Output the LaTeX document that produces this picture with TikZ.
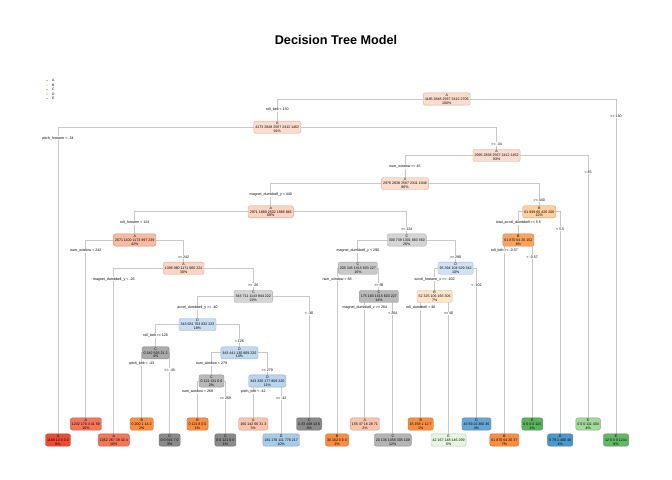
\documentclass[tikz,border=0pt]{standalone}
\usepackage{fontspec}
\setmainfont{Liberation Sans}
\usetikzlibrary{backgrounds}
\definecolor{lcol}{RGB}{200,200,200}
% class A (reds)
\definecolor{aA1}{RGB}{252,220,204}
\definecolor{aA2}{RGB}{252,210,192}
\definecolor{aA3}{RGB}{249,187,162}
\definecolor{aA4}{RGB}{251,213,196}
\definecolor{aA5}{RGB}{251,196,175}
\definecolor{aA6}{RGB}{243,118,90}
\definecolor{aA7}{RGB}{239,75,52}
% class B (oranges)
\definecolor{bB1}{RGB}{253,208,158}
\definecolor{bB2}{RGB}{250,164,96}
\definecolor{bB3}{RGB}{254,229,201}
\definecolor{bB4}{RGB}{249,142,67}
% class C (greys)
\definecolor{cC1}{RGB}{213,213,213}
\definecolor{cC2}{RGB}{201,201,201}
\definecolor{cC3}{RGB}{185,185,185}
\definecolor{cC4}{RGB}{170,170,170}
\definecolor{cC5}{RGB}{138,138,138}
\definecolor{cC6}{RGB}{180,180,180}
% class D (blues)
\definecolor{dD1}{RGB}{208,226,244}
\definecolor{dD2}{RGB}{200,221,242}
\definecolor{dD3}{RGB}{193,217,240}
\definecolor{dD4}{RGB}{186,212,238}
\definecolor{dD5}{RGB}{168,203,232}
\definecolor{dD6}{RGB}{102,166,212}
\definecolor{dD7}{RGB}{76,152,203}
% class E (greens)
\definecolor{eE1}{RGB}{100,183,102}
\definecolor{eE2}{RGB}{90,180,94}
\definecolor{eE3}{RGB}{163,215,155}
\definecolor{eE4}{RGB}{230,245,224}
% legend
\definecolor{legA}{RGB}{240,80,55}
\definecolor{legB}{RGB}{249,150,70}
\definecolor{legC}{RGB}{130,130,130}
\definecolor{legD}{RGB}{95,160,210}
\definecolor{legE}{RGB}{80,175,85}
\newcommand\mysplit[5]{%
  \begin{pgfonlayer}{background}
    \draw[br] (#2.north) -- (#2|-#1) -- (#3|-#1) -- (#3.north);
  \end{pgfonlayer}
  \path (#2|-#1) ++(0,11) node[lbl] (#1ll) {#4};
  \path (#3|-#1) ++(0,17) node[lbl] (#1rl) {#5};
}
\begin{document}
\begin{tikzpicture}[x=1bp,y=-1bp,
  nd/.style={draw=#1!80!black, fill=#1, rounded corners=2bp, line width=0.35bp,
    align=center, inner xsep=1.6bp, inner ysep=0.9bp,
    font=\fontsize{3.6}{3.95}\selectfont},
  lbl/.style={fill=white, inner xsep=0.6bp, inner ysep=0.5bp,
    font=\fontsize{3.6}{4}\selectfont},
  br/.style={draw=lcol, line width=0.9bp},
  legtxt/.style={anchor=west, inner sep=0.5bp, font=\fontsize{3.4}{4}\selectfont},
  legdot/.style={circle, inner sep=0pt, minimum size=1.4bp}]
\useasboundingbox (0,0) rectangle (672,480);

\node[font=\bfseries\fontsize{12.7}{14}\selectfont] (title) at (336,40) {Decision Tree Model};

% legend
\node[legdot, fill=legA] (ldA) at (47,80.5) {};
\node[legdot, fill=legB] (ldB) at (47,85) {};
\node[legdot, fill=legC] (ldC) at (47,89.5) {};
\node[legdot, fill=legD] (ldD) at (47,94) {};
\node[legdot, fill=legE] (ldE) at (47,98.5) {};
\node[legtxt] (ltA) at (51.5,80.5) {A};
\node[legtxt] (ltB) at (51.5,85) {B};
\node[legtxt] (ltC) at (51.5,89.5) {C};
\node[legtxt] (ltD) at (51.5,94) {D};
\node[legtxt] (ltE) at (51.5,98.5) {E};

% internal nodes
\node[nd=aA1] (R)    at (446.7,99)    {A\\4185 2848 2567 2412 2706\\100\%};
\node[nd=aA1] (n2)   at (277.3,127.2) {A\\4173 2848 2567 2412 1462\\91\%};
\node[nd=aA1] (n3)   at (496.6,155.4) {A\\2995 2838 2567 2412 1462\\83\%};
\node[nd=aA1] (n4)   at (405,183.6)   {A\\2976 2838 2567 2311 1046\\80\%};
\node[nd=aA2] (n5)   at (270.8,211.8) {A\\2971 1889 2502 1885 846\\68\%};
\node[nd=bB1] (nB1)  at (539.3,211.8) {B\\61 949 65 426 200\\12\%};
\node[nd=aA3] (n7)   at (134.7,240)   {A\\2671 1100 1173 997 239\\42\%};
\node[nd=cC1] (n6)   at (406.8,240)   {C\\300 739 1301 883 560\\26\%};
\node[nd=bB2] (nB2)  at (518.4,240)   {B\\61 870 64 26 152\\8\%};
\node[nd=aA4] (n8)   at (183.6,268.2) {A\\1395 960 1171 906 224\\30\%};
\node[nd=cC2] (n6L)  at (357.9,268.2) {C\\205 345 1515 603 227\\15\%};
\node[nd=dD1] (nD)   at (455.6,268.2) {D\\95 394 104 529 342\\10\%};
\node[nd=cC1] (n9)   at (253.3,296.4) {C\\343 711 1143 844 222\\22\%};
\node[nd=cC3] (n6LR) at (378.9,296.4) {C\\175 183 1515 603 227\\14\%};
\node[nd=bB3] (nDL)  at (434.6,296.4) {B\\52 325 106 165 306\\7\%};
\node[nd=dD2] (n10)  at (197.5,324.6) {D\\343 681 703 832 223\\18\%};
\node[nd=cC4] (n11)  at (155.6,352.8) {C\\0 242 593 21 2\\4\%};
\node[nd=dD3] (n12)  at (239.4,352.8) {D\\343 441 130 809 220\\14\%};
\node[nd=cC3] (n13)  at (211.5,381)   {C\\0 121 131 0 0\\2\%};
\node[nd=dD4] (n14)  at (267.3,381)   {D\\343 320 177 809 220\\11\%};

% leaves
\node[nd=aA7] (L1)  at (58,440)    {A\\1169 10 0 0 0\\8\%};
\node[nd=aA6] (L2)  at (85.9,424)  {A\\1232 170 4 41 58\\10\%};
\node[nd=aA6] (L3)  at (113.8,440) {A\\1052 267 39 42 4\\10\%};
\node[nd=bB4] (L4)  at (141.7,424) {B\\0 200 1 14 2\\2\%};
\node[nd=cC5] (L5)  at (169.6,440) {C\\0 0 591 7 0\\3\%};
\node[nd=bB4] (L6)  at (197.5,424) {B\\0 121 8 0 0\\1\%};
\node[nd=cC5] (L7)  at (225.4,440) {C\\0 0 121 0 0\\1\%};
\node[nd=aA5] (L8)  at (253.3,424) {A\\160 142 66 31 3\\3\%};
\node[nd=dD5] (L9)  at (281.2,440) {D\\181 178 111 778 217\\10\%};
\node[nd=cC5] (L10) at (309.1,424) {C\\0 33 449 13 0\\3\%};
\node[nd=bB4] (L11) at (337,440)   {B\\30 162 0 0 0\\1\%};
\node[nd=aA5] (L12) at (364.9,424) {A\\155 47 16 28 71\\2\%};
\node[nd=cC6] (L13) at (392.8,440) {C\\20 136 1058 335 109\\12\%};
\node[nd=bB4] (L14) at (420.7,424) {B\\15 158 1 12 7\\1\%};
\node[nd=eE4] (L15) at (448.6,440) {E\\42 167 148 146 299\\6\%};
\node[nd=dD6] (L16) at (476.5,424) {D\\43 69 22 360 36\\4\%};
\node[nd=bB4] (L17) at (504.4,440) {B\\61 870 64 26 37\\7\%};
\node[nd=eE2] (L18) at (532.3,424) {E\\0 0 0 0 115\\1\%};
\node[nd=dD7] (L19) at (560.2,440) {D\\0 79 1 400 48\\4\%};
\node[nd=eE3] (L20) at (588.1,424) {E\\0 0 0 111 434\\4\%};
\node[nd=eE1] (L21) at (616,440)   {E\\12 0 0 0 1244\\8\%};

% splits
\mysplit{R}{n2}{L21}{roll\_belt < 130}{>= 130}
\mysplit{n2}{L1}{n3}{pitch\_forearm < -34}{>= -34}
\mysplit{n3}{n4}{L20}{num\_window >= 45}{< 45}
\mysplit{n4}{n5}{nB1}{magnet\_dumbbell\_y < 440}{>= 440}
\mysplit{n5}{n7}{n6}{roll\_forearm < 124}{>= 124}
\mysplit{nB1}{nB2}{L19}{total\_accel\_dumbbell >= 5.5}{< 5.5}
\mysplit{nB2}{L17}{L18}{roll\_belt >= -0.57}{< -0.57}
\mysplit{n7}{L2}{n8}{num\_window < 242}{>= 242}
\mysplit{n8}{L3}{n9}{magnet\_dumbbell\_y < -26}{>= -26}
\mysplit{n6}{n6L}{nD}{magnet\_dumbbell\_y < 290}{>= 290}
\mysplit{n6L}{L11}{n6LR}{num\_window < 68}{>= 68}
\mysplit{n6LR}{L12}{L13}{magnet\_dumbbell\_z >= 264}{< 264}
\mysplit{nD}{nDL}{L16}{accel\_forearm\_x >= -102}{< -102}
\mysplit{nDL}{L14}{L15}{roll\_dumbbell < 40}{>= 40}
\mysplit{n9}{n10}{L10}{accel\_dumbbell\_y >= -40}{< -40}
\mysplit{n10}{n11}{n12}{roll\_belt >= 126}{< 126}
\mysplit{n11}{L4}{L5}{pitch\_belt < -43}{>= -43}
\mysplit{n12}{n13}{n14}{num\_window < 279}{>= 279}
\mysplit{n13}{L6}{L7}{num\_window < 269}{>= 269}
\mysplit{n14}{L8}{L9}{pitch\_belt < -42}{>= -42}
\end{tikzpicture}
\end{document}
